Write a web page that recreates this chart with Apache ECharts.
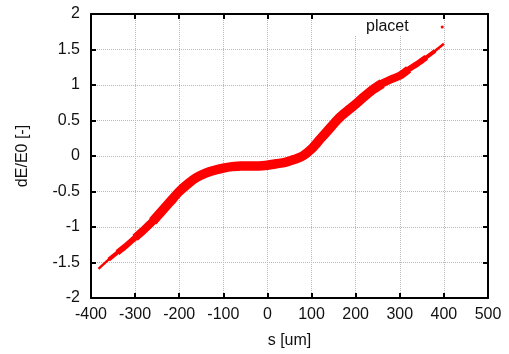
<!DOCTYPE html>
<html>
<head>
<meta charset="utf-8">
<script src="https://cdn.jsdelivr.net/npm/echarts@6/dist/echarts.min.js"></script>
<style>
html,body{margin:0;padding:0;background:#fff;}
#chart{width:509px;height:354px;}
</style>
</head>
<body>
<div id="chart"></div>
<script>
// s [um] sample positions along the band and the band's centre dE/E0
const sValues = [-383,-360,-340,-320,-300,-280,-260,-240,-220,-200,-180,-160,-140,-120,-100,-80,-60,-40,-20,0,20,40,60,80,100,120,140,160,180,200,220,240,260,280,300,320,340,360,380,400];
const dEValues = [-1.59,-1.46,-1.36,-1.26,-1.15,-1.04,-0.92,-0.78,-0.64,-0.50,-0.39,-0.30,-0.24,-0.20,-0.17,-0.15,-0.14,-0.14,-0.14,-0.13,-0.11,-0.09,-0.05,0.00,0.10,0.24,0.38,0.52,0.63,0.73,0.84,0.94,1.02,1.08,1.13,1.22,1.30,1.39,1.48,1.58];
const xTicks = [-400,-300,-200,-100,0,100,200,300,400,500];
const yTicks = [-2,-1.5,-1,-0.5,0,0.5,1,1.5,2];
const seriesName = 'placet';

const pts = sValues.map((s, i) => [s, dEValues[i]]);
const within = (lo, hi) => pts.filter(p => p[0] >= lo && p[0] <= hi);

const FONT = 'Liberation Sans, Arial, Helvetica, sans-serif';
const red = '#ff0000';
const gridLine = { show: true, lineStyle: { color: '#b8b8b8', width: 1, type: [1, 1] } };

const chart = echarts.init(document.getElementById('chart'), null, { renderer: 'canvas' });
const lineSeries = (name, data, w, z) => ({
  name: name, type: 'line', data: data, showSymbol: false, symbol: 'circle', symbolSize: 3,
  smooth: 0.3, lineStyle: { color: red, width: w, cap: 'butt', join: 'round' },
  itemStyle: { color: red }, z: z, animation: false, silent: true
});

chart.setOption({
  animation: false,
  backgroundColor: '#ffffff',
  grid: { left: 91, right: 21, top: 14, bottom: 53, containLabel: false },
  legend: {
    data: [{ name: seriesName, icon: 'circle' }],
    left: 361, top: 14, padding: 5, align: 'right',
    itemWidth: 3, itemHeight: 3,
    textStyle: { fontFamily: FONT, fontSize: 16, color: '#111', padding: [0, 27, 0, 0] }
  },
  graphic: [{ type: 'rect', shape: { x: 335, y: 15, width: 103, height: 20 }, style: { fill: '#fff' }, z: 1, silent: true }],
  xAxis: [{
    type: 'value', min: -400, max: 500, interval: 100, position: 'bottom',
    name: 's [um]', nameLocation: 'middle', nameGap: 35,
    nameTextStyle: { fontFamily: FONT, fontSize: 16, color: '#111' },
    axisLine: { show: true, onZero: false, lineStyle: { color: '#000', width: 2 } },
    axisTick: { show: true, inside: true, length: 5, lineStyle: { color: '#000', width: 2 } },
    axisLabel: { fontFamily: FONT, fontSize: 16, color: '#111', margin: 9,
      formatter: v => xTicks.includes(v) ? String(v) : '' },
    splitLine: gridLine
  }, {
    type: 'value', min: -400, max: 500, interval: 100, position: 'top',
    axisLine: { show: true, onZero: false, lineStyle: { color: '#000', width: 2 } },
    axisTick: { show: true, inside: true, length: 5, lineStyle: { color: '#000', width: 2 } },
    axisLabel: { show: false }, splitLine: { show: false }
  }],
  yAxis: [{
    type: 'value', min: -2, max: 2, interval: 0.5, position: 'left',
    name: 'dE/E0 [-]', nameLocation: 'middle', nameGap: 60, nameRotate: 90,
    nameTextStyle: { fontFamily: FONT, fontSize: 16, color: '#111' },
    axisLine: { show: true, onZero: false, lineStyle: { color: '#000', width: 2 } },
    axisTick: { show: true, inside: true, length: 5, lineStyle: { color: '#000', width: 2 } },
    axisLabel: { fontFamily: FONT, fontSize: 16, color: '#111', margin: 11,
      formatter: v => yTicks.includes(v) ? String(v) : '' },
    splitLine: gridLine
  }, {
    type: 'value', min: -2, max: 2, interval: 0.5, position: 'right',
    axisLine: { show: true, onZero: false, lineStyle: { color: '#000', width: 2 } },
    axisTick: { show: true, inside: true, length: 5, lineStyle: { color: '#000', width: 2 } },
    axisLabel: { show: false }, splitLine: { show: false }
  }],
  series: [
    lineSeries(seriesName, pts, 2.5, 3),
    lineSeries('band-a', within(-360, 380), 4, 4),
    lineSeries('band-b', within(-340, 360), 6, 5),
    lineSeries('band-c', within(-300, 320), 8, 6),
    lineSeries('band-d', within(-260, 260), 9.5, 7)
  ]
});
</script>
</body>
</html>
